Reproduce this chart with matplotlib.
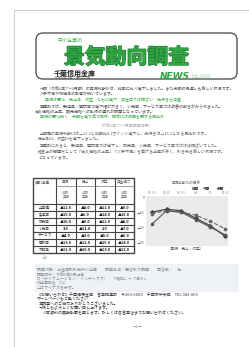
import matplotlib
matplotlib.use("Agg")
import matplotlib.pyplot as plt
from matplotlib.patches import FancyBboxPatch, Rectangle
import matplotlib.patheffects as pe

plt.rcParams['font.family'] = ['Noto Sans CJK JP', 'DejaVu Sans']

# chart data (DI, %)
periods = ["R5.7-9", "10-12", "R6.1-3", "4-6", "7-9", "10-12"]
di_gyokyo = [-10, -8, -9, -14, -19, -26]
di_uriage = [-11, -9, -10, -12, -16, -21]
di_shueki = [-18, -9, -10, -15, -20, -25]
y_ticks = [0, -10, -20, -30]
y_labels = ["0", "△10", "△20", "△30"]

# table data
row_names = ["全業種", "製造業", "卸売業", "小売業", "サービス", "建設業", "不動産"]
col_names = ["業況", "売上", "収益", "資金繰り"]
table_vals = [
    [-12, -8, -11, -9],
    [-15, -6, -14, -10],
    [-10, -9, -12, -8],
    [3, -11, 2, -7],
    [-4, -3, -5, -6],
    [-13, -12, -15, -14],
    [-11, -10, -13, -12],
]

body_lines = [
    (89, 40, "#555", "今期（令和6年7～9月期）の業況判断DIは、前期に比べ低下しました。また来期の見通しも厳しい状況です。"),
    (94, 40, "#555", "人手不足や物価高の影響が続いています。"),
    (100, 45, "#3aae48", "業況は悪化　売上高　収益　ともに低下　資金繰りは横ばい　先行きも慎重"),
    (107, 40, "#555", "業種別では、製造業・建設業で低下幅が大きく、小売業・サービス業では改善の動きがみられました。"),
    (112, 35, "#555", "仕入価格の上昇、販売価格への転嫁の遅れが課題となっています。"),
    (117, 40, "#3aae48", "業況の悪化続く　来期も低水準で推移　回復には時間を要する見込み"),
    (134, 40, "#666", "全業種の業況判断DIは△12.3と前期比4.1ポイント低下し、先行きは△15.2となる見込みです。"),
    (139, 38, "#666", "売上高DI、収益DIも低下しました。"),
    (146, 40, "#666", "業種別にみると、製造業、建設業では低下し、卸売業、小売業、サービス業ではほぼ横ばいでした。"),
    (152, 38, "#666", "経営上の問題点として「仕入価格の上昇」「人手不足」を挙げる企業が多く、引き続き厳しい状況です。"),
    (158, 38, "#666", "となっています。"),
]
foot_lines = [
    (270, 37, "#888", "調査対象：当金庫取引先中小企業　　調査方法：聞き取り調査　　回答数：　社"),
    (275, 37, "#888", "調査時点：令和6年9月上旬"),
    (279, 37, "#888", "DI（ディフュージョン・インデックス）：「増加」－「減少」"),
    (283, 37, "#888", "の企業割合（％）"),
    (288, 37, "#888", "△はマイナスを示す。"),
    (295, 37, "#333", "【お問い合わせ】千葉信用金庫　営業推進部　〒260-0000　千葉市中央区　TEL 043-000"),
    (299, 37, "#333", "ホームページもご覧ください"),
    (304, 39, "#333", "本調査へのご協力ありがとうございました。"),
    (308, 39, "#333", "今後ともよろしくお願い申し上げます。"),
    (313, 42, "#333", "※本資料の無断転載を禁じます。詳しくは各営業店までお問い合わせください。"),
]

fig = plt.figure(figsize=(2.49, 3.47), dpi=100)
page = fig.add_axes([0, 0, 1, 1])
page.set_xlim(0, 249)
page.set_ylim(347, 0)
page.axis('off')

# page edge
page.plot([14, 14, 249], [347, 10, 10], color="#d0d0d0", lw=0.8)

# header box
page.add_patch(FancyBboxPatch((36, 33), 201, 46, boxstyle="round,pad=0,rounding_size=7",
                              fc="white", ec="#555555", lw=1.0))
page.text(57, 40, "中小企業の", fontsize=3.6, color="#3aae48", va="center")
page.text(64, 57, "景気動向調査", fontsize=15, fontweight="bold", color="#34a844", va="center",
          path_effects=[pe.withStroke(linewidth=1.0, foreground="#1b7a30")])
page.text(54, 73, "千葉信用金庫", fontsize=5, fontweight="bold", color="#222", va="center")
page.text(54, 78.5, "令和6年9月　第○○号", fontsize=2.6, color="#555", va="center")
page.text(160, 76, "NEWS", fontsize=6.5, fontweight="bold", style="italic", color="#2fa23f", va="center",
          family="DejaVu Sans")
page.text(191, 76.5, "No.000", fontsize=4, color="#9bd6a3", va="center", family="DejaVu Sans")

for y, x, c, s in body_lines + foot_lines:
    page.text(x, y, s, fontsize=2.9, color=c, va="center")
page.text(126, 126, "（令和6年7～9月期調査結果）", fontsize=2.9, color="#aaa", va="center", ha="center")

# footnote background
page.add_patch(Rectangle((35, 264), 204, 28, fc="#eef2f6", ec="none", zorder=0))

# table
tx0, ty0 = 33, 178
w0, wc = 23, 19.5
hh, rh = 26, 7
n_rows = len(row_names)
tx1 = tx0 + w0 + wc * len(col_names)
ty1 = ty0 + hh + rh * n_rows
page.add_patch(Rectangle((tx0, ty0), tx1 - tx0, ty1 - ty0, fc="white", ec="#444", lw=1.0))
page.text(tx0 + 2, ty0 + 4, "項目/業種", fontsize=2.4, color="#555", va="center")
for j, name in enumerate(col_names):
    cx = tx0 + w0 + wc * j
    page.plot([cx, cx], [ty0, ty1], color="#444", lw=0.8)
    page.text(cx + wc / 2, ty0 + 4, name, fontsize=2.6, color="#555", ha="center", va="center")
    page.text(cx + wc / 2, ty0 + 16, "今期\n実績", fontsize=2.4, color="#777", ha="center",
              va="center", linespacing=1.0)
page.plot([tx0 + w0, tx1], [ty0 + 8, ty0 + 8], color="#777", lw=0.5)
for i, name in enumerate(row_names):
    ry = ty0 + hh + rh * i
    page.plot([tx0, tx1], [ry, ry], color="#444", lw=0.8)
    page.text(tx0 + w0 / 2, ry + rh / 2, name, fontsize=2.6, color="#444", ha="center", va="center")
    for j, v in enumerate(table_vals[i]):
        cx = tx0 + w0 + wc * j
        s = ("▲" if v < 0 else "") + f"{abs(v)}.0"
        page.text(cx + wc / 2, ry + rh / 2, s, fontsize=2.8, color="#111", ha="center", va="center",
                  fontweight="bold")
page.text(40, 258, "（注）", fontsize=2.6, color="#aaa", va="center")

# chart
page.text(186, 183, "業況判断DIの推移", fontsize=2.6, color="#666", ha="center", va="center")
for x, s in zip([195, 207, 221], ["前期", "今期", "来期"]):
    page.text(x, 189, s, fontsize=2.6, color="#333", fontweight="bold", ha="center", va="center")
ax = fig.add_axes([146 / 249, 1 - 246 / 347, 82 / 249, 50 / 347])
ax.set_facecolor("#ebebeb")
xs = range(len(periods))
ax.plot(xs, di_gyokyo, color="#444", lw=0.9, marker="D", ms=1.8)
ax.plot(xs, di_uriage, color="#666", lw=0.8, ls="--", marker="s", ms=1.6)
ax.plot(xs, di_shueki, color="#555", lw=0.8, marker="o", ms=1.6)
ax.set_xlim(-0.4, 5.2)
ax.set_ylim(-32.5, 0.8)
ax.set_yticks(y_ticks)
ax.set_yticklabels(y_labels, fontsize=2.6, color="#555")
ax.set_xticks(list(xs))
ax.set_xticklabels(periods, fontsize=2.2, color="#888")
ax.xaxis.tick_top()
ax.tick_params(length=0, pad=1)
for sp in ax.spines.values():
    sp.set_visible(False)
page.text(168, 249, "（業況・売上・収益）", fontsize=2.6, color="#555", va="center")

page.text(137, 327, "－1－", fontsize=2.8, color="#888", ha="center", va="center")

fig.savefig("out.png", dpi=100)
